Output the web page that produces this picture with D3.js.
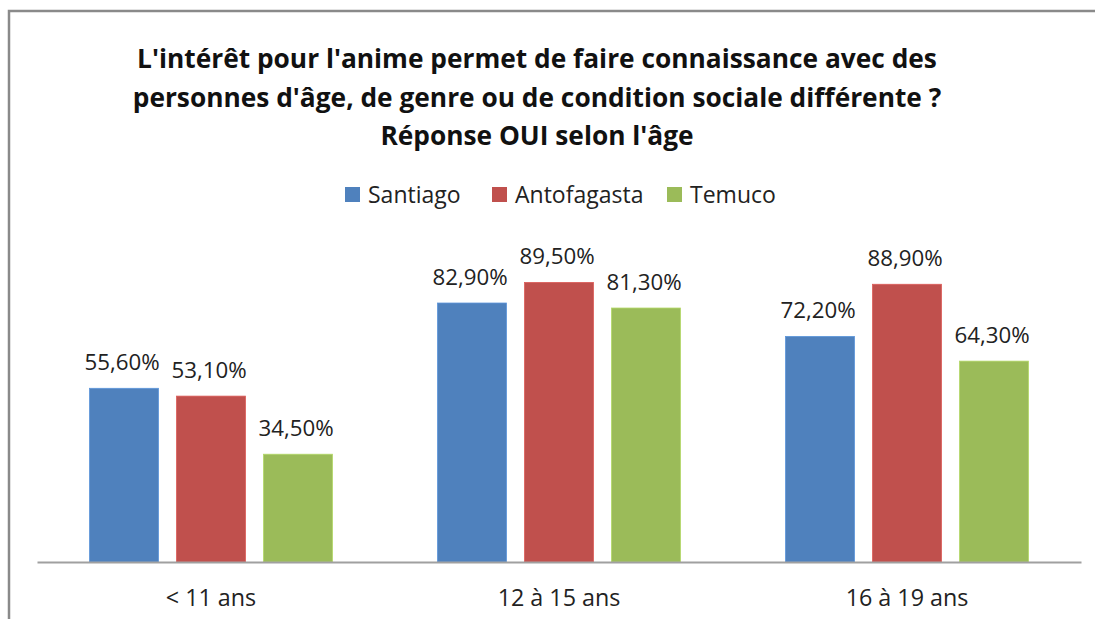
<!DOCTYPE html>
<html>
<head>
<meta charset="utf-8">
<script src="https://cdn.jsdelivr.net/npm/d3@7"></script>
<style>
  html, body { margin: 0; padding: 0; background: #fff; }
  svg { display: block; }
  text { font-family: "Open Sans", Lato, sans-serif; fill: #222; }
</style>
</head>
<body>
<svg id="chart" width="1095" height="619"></svg>
<script>
// Age groups on the x axis
const ageGroups = ["< 11 ans", "12 à 15 ans", "16 à 19 ans"];
// Cities (one bar per city inside each age group)
const cities = ["Santiago", "Antofagasta", "Temuco"];
// Share of "OUI" answers, in percent, per city for each age group
const santiago    = [55.6, 82.9, 72.2];
const antofagasta = [53.1, 89.5, 88.9];
const temuco      = [34.5, 81.3, 64.3];
const titleLines = [
  "L'intérêt pour l'anime permet de faire connaissance avec des",
  "personnes d'âge, de genre ou de condition sociale différente ?",
  "Réponse OUI selon l'âge"
];

const seriesValues = [santiago, antofagasta, temuco];
const colors = ["#4F81BD", "#C0504D", "#9BBB59"];

const svg = d3.select("#chart");
const W = 1095, H = 619;

// Outer chart frame (extends past the right and bottom edges)
svg.append("rect")
  .attr("x", 9).attr("y", 11)
  .attr("width", W + 20).attr("height", H + 20)
  .attr("fill", "#fff")
  .attr("stroke", "#8a8a8a").attr("stroke-width", 2.5);

// Title
const title = svg.append("text")
  .attr("text-anchor", "middle")
  .style("font-weight", "bold")
  .style("font-size", "26.3px")
  .style("fill", "#111");
titleLines.forEach((line, i) => {
  title.append("tspan").attr("x", 537).attr("y", 68 + i * 38.5).text(line);
});

// Legend
const legendX = [345, 492, 667];
const legend = svg.append("g");
cities.forEach((c, i) => {
  const g = legend.append("g").attr("transform", `translate(${legendX[i]},187)`);
  g.append("rect").attr("width", 15).attr("height", 15).attr("fill", colors[i]);
  g.append("text").attr("x", 23).attr("y", 15.5).style("font-size", "23px").text(c);
});

// Plot area
const plot = { left: 37, right: 1081, bottom: 562 };
const x0 = d3.scaleBand().domain(ageGroups).range([plot.left, plot.right]).paddingInner(0).paddingOuter(0);
const barW = 69, barGap = 18;
const x1 = d3.scaleBand().domain(cities)
  .range([-(3 * barW + 2 * barGap) / 2, (3 * barW + 2 * barGap) / 2])
  .paddingInner(barGap / (barW + barGap)).paddingOuter(0);
const y = d3.scaleLinear().domain([0, 100]).range([plot.bottom, plot.bottom - 312.4]);

const groups = svg.append("g").selectAll("g")
  .data(ageGroups)
  .join("g")
  .attr("transform", d => `translate(${x0(d) + x0.bandwidth() / 2},0)`);

groups.each(function (age, gi) {
  const g = d3.select(this);
  cities.forEach((c, si) => {
    const v = seriesValues[si][gi];
    g.append("rect")
      .attr("x", x1(c))
      .attr("y", y(v))
      .attr("width", x1.bandwidth())
      .attr("height", y(0) - y(v))
      .attr("fill", colors[si])
      .attr("stroke", d3.color(colors[si]).brighter(0.4))
      .attr("stroke-width", 0.8);
    g.append("text")
      .attr("x", x1(c) + x1.bandwidth() / 2 - 2)
      .attr("y", y(v) - 18)
      .attr("text-anchor", "middle")
      .style("font-size", "22.3px")
      .text(d3.format(".2f")(v).replace(".", ",") + "%");
  });
});

// Category axis
const xAxis = svg.append("g")
  .attr("transform", `translate(0,${plot.bottom})`)
  .call(d3.axisBottom(x0).tickSize(0).tickPadding(0));
xAxis.select(".domain").attr("stroke", "#a0a0a0").attr("stroke-width", 2);
xAxis.selectAll(".tick text")
  .attr("dy", 0).attr("y", 44)
  .style("font-size", "23.3px")
  .style("font-family", "'Open Sans', Lato, sans-serif")
  .attr("fill", "#222");
</script>
</body>
</html>
